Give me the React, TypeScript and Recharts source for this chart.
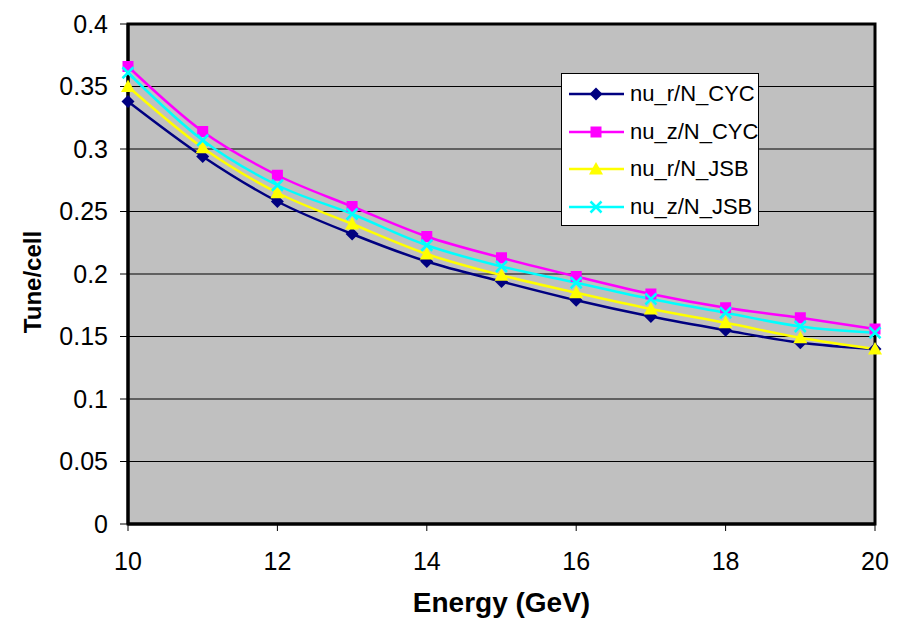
import React from 'react';
import {
  LineChart,
  Line,
  XAxis,
  YAxis,
  CartesianGrid,
  ReferenceArea,
} from 'recharts';

const ENERGY = [10, 11, 12, 13, 14, 15, 16, 17, 18, 19, 20];
const NU_R_CYC = [0.338, 0.294, 0.258, 0.232, 0.21, 0.194, 0.179, 0.166, 0.155, 0.145, 0.14];
const NU_Z_CYC = [0.366, 0.314, 0.279, 0.254, 0.23, 0.213, 0.198, 0.184, 0.173, 0.165, 0.156];
const NU_R_JSB = [0.35, 0.301, 0.265, 0.24, 0.216, 0.199, 0.185, 0.172, 0.161, 0.149, 0.14];
const NU_Z_JSB = [0.361, 0.307, 0.271, 0.248, 0.223, 0.206, 0.193, 0.18, 0.169, 0.158, 0.153];

const X_TICKS = [10, 12, 14, 16, 18, 20];
const Y_TICKS = [0, 0.05, 0.1, 0.15, 0.2, 0.25, 0.3, 0.35, 0.4];

const SERIES = [
  { key: 'nuRCyc', name: 'nu_r/N_CYC', color: '#000080', shape: 'diamond', values: NU_R_CYC },
  { key: 'nuZCyc', name: 'nu_z/N_CYC', color: '#FF00FF', shape: 'square', values: NU_Z_CYC },
  { key: 'nuRJsb', name: 'nu_r/N_JSB', color: '#FFFF00', shape: 'triangle', values: NU_R_JSB },
  { key: 'nuZJsb', name: 'nu_z/N_JSB', color: '#00FFFF', shape: 'cross', values: NU_Z_JSB },
];

const data = ENERGY.map((e, i) => {
  const row: Record<string, number> = { energy: e };
  SERIES.forEach((s) => {
    row[s.key] = s.values[i];
  });
  return row;
});

const FONT = '"Liberation Sans", Arial, sans-serif';

function Marker({ shape, cx, cy, color }: { shape: string; cx: number; cy: number; color: string }) {
  if (cx == null || cy == null || isNaN(cx) || isNaN(cy)) return null;
  if (shape === 'diamond') {
    const r = 6.5;
    return <path d={`M${cx},${cy - r}L${cx + r},${cy}L${cx},${cy + r}L${cx - r},${cy}Z`} fill={color} />;
  }
  if (shape === 'square') {
    const r = 5.5;
    return <rect x={cx - r} y={cy - r} width={2 * r} height={2 * r} fill={color} />;
  }
  if (shape === 'triangle') {
    const r = 7;
    return <path d={`M${cx},${cy - r}L${cx + r},${cy + r * 0.8}L${cx - r},${cy + r * 0.8}Z`} fill={color} />;
  }
  const r = 5.5;
  return (
    <path
      d={`M${cx - r},${cy - r}L${cx + r},${cy + r}M${cx - r},${cy + r}L${cx + r},${cy - r}`}
      stroke={color}
      strokeWidth={2.5}
      fill="none"
    />
  );
}

function LegendBox() {
  return (
    <div
      style={{
        position: 'absolute',
        left: 561,
        top: 73,
        width: 196,
        height: 151,
        background: '#ffffff',
        border: '1px solid #000',
        fontFamily: FONT,
        fontSize: 22,
        color: '#000',
      }}
    >
      {SERIES.map((s, i) => (
        <div
          key={s.key}
          style={{ position: 'absolute', left: 0, top: 7 + i * 37.7, height: 26, display: 'flex', alignItems: 'center' }}
        >
          <svg width={66} height={26} style={{ display: 'block' }}>
            <line x1={7} y1={13} x2={62} y2={13} stroke={s.color} strokeWidth={2.5} />
            <Marker shape={s.shape} cx={34} cy={13} color={s.color} />
          </svg>
          <span style={{ marginLeft: 2, whiteSpace: 'nowrap' }}>{s.name}</span>
        </div>
      ))}
    </div>
  );
}

export default function App() {
  return (
    <div style={{ position: 'absolute', left: 0, top: 0, width: 905, height: 629, background: '#fff' }}>
      <LineChart width={905} height={629} data={data} margin={{ top: 24, right: 30, bottom: 0, left: 0 }}>
        <CartesianGrid vertical={false} stroke="#000" strokeWidth={1} fill="#C0C0C0" fillOpacity={1} />
        <XAxis
          dataKey="energy"
          type="number"
          domain={[10, 20]}
          ticks={X_TICKS}
          height={105}
          tickSize={7}
          tickMargin={21}
          axisLine={{ stroke: '#000', strokeWidth: 3 }}
          tickLine={{ stroke: '#000' }}
          tick={{ fill: '#000', fontSize: 25, fontFamily: FONT }}
          label={{
            value: 'Energy (GeV)',
            position: 'insideBottom',
            offset: 17,
            style: { fill: '#000', fontSize: 28, fontWeight: 'bold', fontFamily: FONT },
          }}
        />
        <YAxis
          type="number"
          domain={[0, 0.4]}
          ticks={Y_TICKS}
          width={128}
          tickSize={8}
          tickMargin={12}
          axisLine={{ stroke: '#000', strokeWidth: 3 }}
          tickLine={{ stroke: '#000' }}
          tick={{ fill: '#000', fontSize: 25, fontFamily: FONT }}
          tickFormatter={(v: number) => String(v)}
          label={{
            content: (props: any) => {
              const vb = props.viewBox || {};
              const x = 32;
              const y = (vb.y ?? 24) + (vb.height ?? 500) / 2 + 8;
              return (
                <text
                  x={x}
                  y={y}
                  transform={`rotate(-90, ${x}, ${y})`}
                  textAnchor="middle"
                  dominantBaseline="central"
                  fill="#000"
                  fontSize={24}
                  fontWeight="bold"
                  fontFamily={FONT}
                >
                  Tune/cell
                </text>
              );
            },
          }}
        />
        <ReferenceArea x1={10} x2={20} y1={0} y2={0.4} fill="none" fillOpacity={0} stroke="#000" strokeWidth={3} ifOverflow="visible" />
        {SERIES.map((s) => (
          <Line
            key={s.key}
            type="monotone"
            dataKey={s.key}
            name={s.name}
            stroke={s.color}
            strokeWidth={2.5}
            isAnimationActive={false}
            dot={(p: any) => <Marker key={`${s.key}-${p.index}`} shape={s.shape} cx={p.cx} cy={p.cy} color={s.color} />}
            activeDot={false}
          />
        ))}
      </LineChart>
      <LegendBox />
    </div>
  );
}
